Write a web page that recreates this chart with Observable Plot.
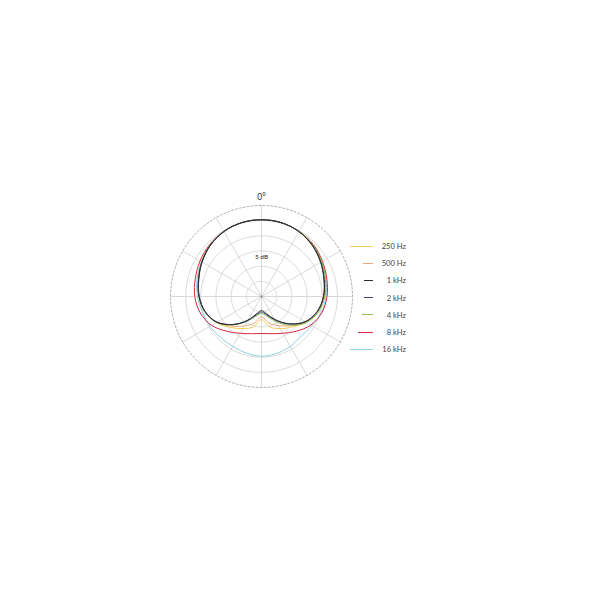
<!DOCTYPE html>
<html>
<head>
<meta charset="utf-8">
<script src="https://cdn.jsdelivr.net/npm/d3@7"></script>
<script src="https://cdn.jsdelivr.net/npm/@observablehq/plot@0.6"></script>
<style>
  html, body { margin: 0; padding: 0; background: #fff; }
  #wrap { position: relative; width: 600px; height: 600px; font-family: Lato, "Open Sans", sans-serif; }
  #chart { position: absolute; left: 141px; top: 176px; }
  .leg { position: absolute; left: 340px; width: 66px; height: 10px; }
  .leg .ln { position: absolute; top: 4.5px; height: 0; border-top: 1.1px solid; }
  .leg .lb { position: absolute; right: 0; top: 0; font-size: 7.6px; line-height: 10px; color: #444; white-space: nowrap; }
</style>
</head>
<body>
<div id="wrap"><div id="chart"></div></div>
<script>
// ---- data ----
const freqs  = ["250 Hz", "500 Hz", "1 kHz", "2 kHz", "4 kHz", "8 kHz", "16 kHz"];
const colors = ["#f2cd55", "#eea57c", "#2b2b2b", "#3d418c", "#8dbf48", "#d6293f", "#8fd1e1"];
const angles = [0, 15, 30, 45, 60, 75, 90, 105, 120, 135, 150, 165, 180, 195, 210, 225, 240, 255, 270, 285, 300, 315, 330, 345];
const db250  = [-4.7, -4.8, -5.3, -6.2, -7.4, -8.6, -9.5, -10.9, -13.0, -15.8, -17.8, -19.6, -22.4, -19.6, -17.8, -15.6, -12.8, -10.7, -9.4, -8.5, -7.3, -6.1, -5.2, -4.8];
const db500  = [-4.7, -4.8, -5.3, -6.2, -7.4, -8.6, -9.5, -10.9, -13.2, -16.4, -18.9, -21.0, -23.3, -21.0, -18.8, -16.2, -13.0, -10.7, -9.4, -8.5, -7.3, -6.1, -5.2, -4.8];
const db1k   = [-4.7, -4.8, -5.3, -6.2, -7.4, -8.6, -9.5, -10.9, -13.3, -17.3, -21.3, -24.2, -25.4, -24.2, -21.0, -17.0, -13.0, -10.7, -9.4, -8.5, -7.3, -6.1, -5.2, -4.8];
const db2k   = [-4.7, -4.8, -5.3, -6.3, -7.5, -8.7, -9.6, -11.0, -13.4, -17.2, -21.0, -23.8, -24.9, -23.8, -20.8, -16.9, -13.1, -10.8, -9.5, -8.6, -7.4, -6.2, -5.3, -4.8];
const db4k   = [-4.7, -4.8, -5.2, -6.0, -7.1, -8.2, -9.1, -10.5, -12.9, -16.6, -20.4, -23.3, -24.4, -23.4, -20.6, -16.8, -12.9, -10.6, -9.3, -8.4, -7.2, -6.0, -5.2, -4.8];
const db8k   = [-4.7, -4.8, -5.2, -5.8, -6.8, -7.7, -8.4, -9.4, -11.2, -13.8, -16.0, -17.3, -17.8, -17.3, -16.0, -13.8, -11.0, -9.1, -8.0, -7.4, -6.6, -5.8, -5.2, -4.8];
const db16k  = [-4.7, -4.8, -5.2, -5.9, -7.0, -8.0, -8.7, -9.6, -10.8, -11.5, -11.0, -10.6, -10.3, -10.7, -11.0, -10.9, -10.4, -9.9, -8.9, -8.0, -7.1, -6.0, -5.3, -4.8];
const ringDb  = [-25, -20, -15, -10, -5];   // solid rings
const outerDb = 0;                          // dashed outer ring
const minDb   = -30;                        // centre
const spokeAngles = [0, 30, 60, 90, 120, 150, 180, 210, 240, 270, 300, 330];
const angleLabel = "0°";
const scaleLabel = "5 dB";

// ---- build ----
const series = [db250, db500, db1k, db2k, db4k, db8k, db16k];
const drawOrder = ["16 kHz", "8 kHz", "250 Hz", "500 Hz", "4 kHz", "2 kHz", "1 kHz"];
const rows = drawOrder.flatMap(f => {
  const vals = series[freqs.indexOf(f)];
  return angles.map((a, j) => ({freq: f, angle: a, db: vals[j]}));
});
const lon = a => 180 - a;
const lat = db => 90 - (db - minDb);
const circle = db => d3.geoCircle().center([0, 90]).radius(db - minDb)();

const chart = Plot.plot({
  width: 240, height: 240, margin: 29,
  projection: {type: "azimuthal-equidistant", rotate: [0, -90], domain: circle(outerDb), clip: false},
  color: {domain: freqs, range: colors},
  marks: [
    Plot.geo(ringDb, {geometry: d => circle(d), stroke: "#cfcfcf", strokeWidth: 0.8}),
    Plot.link(spokeAngles, {x1: d => lon(d), y1: 90, x2: d => lon(d), y2: lat(outerDb), stroke: "#cfcfcf", strokeWidth: 0.8}),
    Plot.geo([outerDb], {geometry: d => circle(d), stroke: "#9a9a9a", strokeWidth: 0.8, strokeDasharray: "2,2"}),
    Plot.dot([0], {x: 0, y: 90, r: 1.1, fill: "#888"}),
    Plot.line(rows, {x: d => lon(d.angle), y: d => lat(d.db), z: "freq", stroke: "freq", strokeWidth: 1.0, curve: "catmull-rom-closed"}),
    Plot.text([angleLabel], {x: lon(0), y: lat(outerDb + 2.6), text: d => d, fontSize: 8.5, fill: "#333"}),
    Plot.text([scaleLabel], {x: lon(0), y: lat(-16.8), text: d => d, fontSize: 6.5, fill: "#222"})
  ]
});
chart.style.fontFamily = "Lato, 'Open Sans', sans-serif";
document.getElementById("chart").append(chart);

// ---- legend (HTML) ----
const legendLen = [23, 10, 9, 9, 11, 15, 23];
const wrap = document.getElementById("wrap");
freqs.forEach((f, i) => {
  const item = document.createElement("div");
  item.className = "leg";
  item.style.top = (241 + i * 17.2) + "px";
  const ln = document.createElement("div");
  ln.className = "ln";
  ln.style.borderColor = colors[i];
  ln.style.left = (33 - legendLen[i]) + "px";
  ln.style.width = legendLen[i] + "px";
  const lb = document.createElement("div");
  lb.className = "lb";
  lb.textContent = f;
  item.append(ln, lb);
  wrap.append(item);
});
</script>
</body>
</html>
